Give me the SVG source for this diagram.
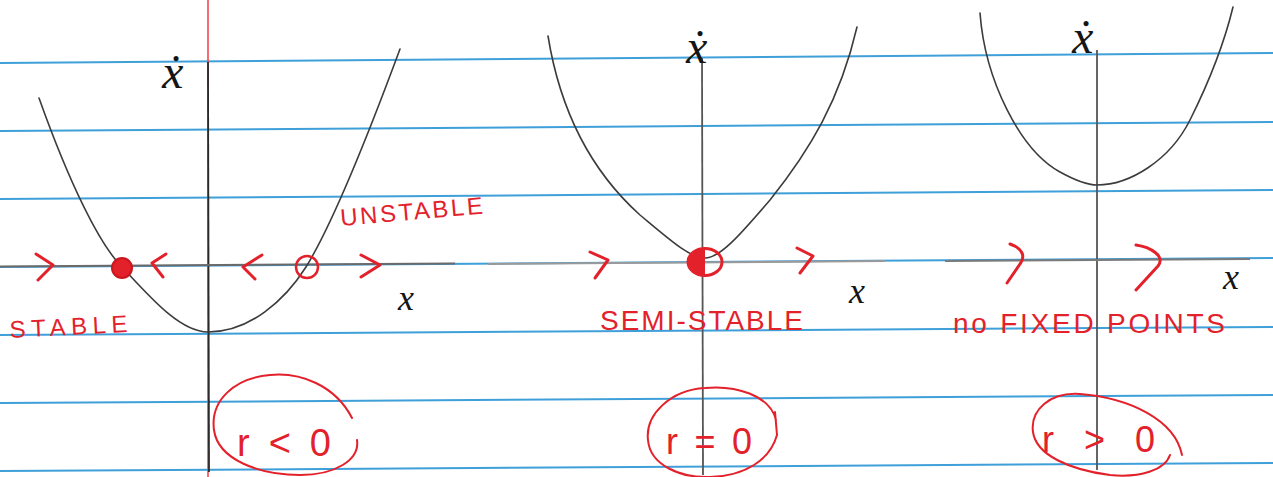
<svg xmlns="http://www.w3.org/2000/svg" width="1273" height="477" viewBox="0 0 1273 477">
<style>
.rule{stroke:#3f9fd9;stroke-width:2;fill:none}
.margin{stroke:#f0484e;stroke-width:1.6;fill:none}
.ink{stroke:#3c3c3c;stroke-width:1.6;fill:none;stroke-linecap:round}
.axis{stroke:#2a2a2a;stroke-width:1.8;fill:none}
.haxis{stroke:#6a6a6a;stroke-width:2;fill:none}
.red{stroke:#e3212b;stroke-width:3;fill:none;stroke-linecap:round;stroke-linejoin:round}
.redthin{stroke:#e3212b;stroke-width:2;fill:none;stroke-linecap:round;stroke-linejoin:round}
.lbl{fill:#e3212b;font-family:"Liberation Sans",sans-serif}
.ax{fill:#151515;font-family:"Liberation Serif",serif;font-style:italic}
</style>
<rect width="1273" height="477" fill="#ffffff"/>
<g id="paper">
<line class="rule" x1="0" y1="63" x2="1273" y2="53"/>
<line class="rule" x1="0" y1="131" x2="1273" y2="122"/>
<line class="rule" x1="0" y1="199" x2="1273" y2="190"/>
<line class="rule" x1="0" y1="267" x2="1273" y2="258"/>
<line class="rule" x1="0" y1="335" x2="1273" y2="327"/>
<line class="rule" x1="0" y1="403" x2="1273" y2="395"/>
<line class="rule" x1="0" y1="471" x2="1273" y2="463"/>
<line class="margin" x1="208" y1="0" x2="208" y2="477"/>
</g>
<g id="panel-r-negative">
<line class="axis" x1="208" y1="62" x2="209" y2="472"/>
<line class="haxis" x1="0" y1="266.5" x2="455" y2="263.5"/>
<path class="ink" d="M39,98 C70,185 100,245 122,267 C150,297 180,332 208,332 C250,332 285,300 306,267 C335,220 370,130 400,49"/>
<circle cx="122" cy="268" r="10" fill="#e3212b" stroke="#c81820" stroke-width="2"/>
<circle cx="307" cy="267" r="11" fill="none" stroke="#e3212b" stroke-width="2.5"/>
<path class="red" d="M36,254 L53,265 L38,280"/>
<path class="red" d="M166,254 L152,263 L163,277"/>
<path class="red" d="M262,255 L243,267 L255,279"/>
<path class="red" d="M361,255 L380,265 L361,277"/>
<text class="ax" x="162" y="88" font-size="48">ẋ</text>
<text class="ax" x="398" y="310" font-size="36">x</text>
<text class="lbl" x="10" y="338" font-size="24" textLength="118" lengthAdjust="spacing" transform="rotate(-3 10 338)">STABLE</text>
<text class="lbl" x="341" y="226" font-size="24" textLength="143" lengthAdjust="spacing" transform="rotate(-5 341 226)">UNSTABLE</text>
<text class="lbl" x="237" y="456" font-size="38" textLength="94" lengthAdjust="spacing">r &lt; 0</text>
<path class="redthin" d="M352,418 C335,385 300,372 270,375 C235,378 210,400 214,430 C218,460 260,475 300,475 C335,475 360,460 357,440"/>
</g>
<g id="panel-r-zero">
<line class="axis" x1="702" y1="58" x2="703" y2="475" style="stroke:#555"/>
<line class="haxis" x1="488" y1="264" x2="885" y2="261" style="stroke:#9a9a9a"/>
<path class="ink" d="M548,36 C560,110 590,170 640,215 C670,240 690,258 705,258 C720,258 740,235 770,200 C810,150 840,100 857,27"/>
<path d="M705,249 A16,13 0 0 0 705,275 Z" fill="#e3212b"/>
<ellipse cx="705" cy="262" rx="17" ry="13.5" fill="none" stroke="#e3212b" stroke-width="3"/>
<path class="red" d="M590,252 L608,260 L595,278"/>
<path class="red" d="M797,248 L813,256 L800,273"/>
<text class="ax" x="686" y="63" font-size="48">ẋ</text>
<text class="ax" x="849" y="303" font-size="36">x</text>
<text class="lbl" x="600" y="330" font-size="28" textLength="203" lengthAdjust="spacing">SEMI-STABLE</text>
<text class="lbl" x="666" y="454" font-size="36" textLength="86" lengthAdjust="spacing">r=0</text>
<path class="redthin" d="M776,420 C770,395 735,385 705,388 C670,390 645,415 648,440 C650,465 680,478 710,477 C745,476 770,460 777,435 L775,412"/>
</g>
<g id="panel-r-positive">
<line class="axis" x1="1097" y1="50" x2="1097" y2="470" style="stroke:#555"/>
<line class="haxis" x1="945" y1="261" x2="1250" y2="259" style="stroke:#7a7a7a"/>
<path class="ink" d="M980,13 C985,80 1020,150 1060,172 C1080,183 1090,185 1097,185 C1130,185 1170,160 1190,120 C1210,80 1225,40 1233,7"/>
<path class="red" d="M1010,244 C1022,248 1026,256 1020,264 L1007,283"/>
<path class="red" d="M1136,245 C1150,247 1166,256 1158,266 L1136,290"/>
<text class="ax" x="1072" y="53" font-size="48">ẋ</text>
<text class="ax" x="1223" y="289" font-size="36">x</text>
<text class="lbl" x="953" y="333" font-size="28" textLength="272" lengthAdjust="spacing">no FIXED POINTS</text>
<text class="lbl" x="1042" y="452" font-size="36" textLength="113" lengthAdjust="spacing">r &gt; 0</text>
<path class="redthin" d="M1182,455 C1175,420 1130,398 1080,394 C1050,392 1030,410 1033,432 C1036,455 1070,470 1110,475 C1140,478 1165,470 1170,455"/>
</g>
</svg>
